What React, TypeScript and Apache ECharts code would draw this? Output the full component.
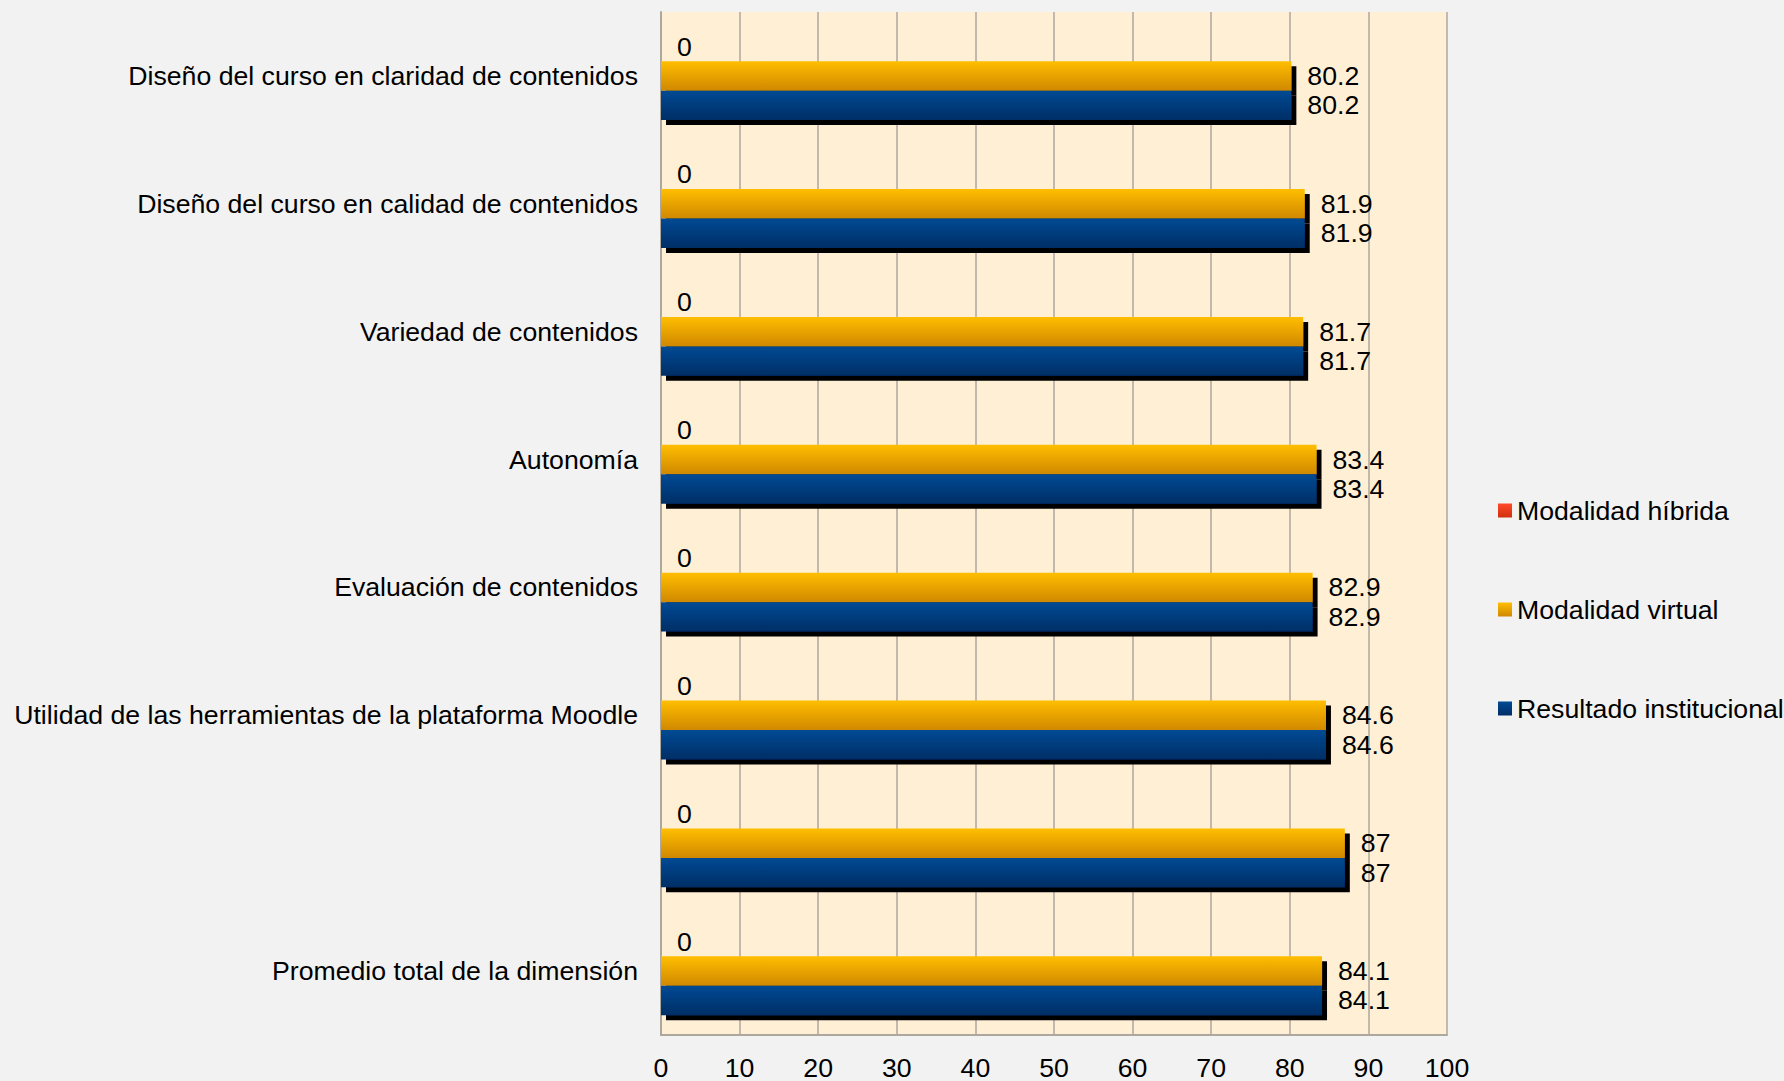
import React, { useEffect, useRef } from "react";
import * as echarts from "echarts";

const categories = [
  "Diseño del curso en claridad de contenidos",
  "Diseño del curso en calidad de contenidos",
  "Variedad de contenidos",
  "Autonomía",
  "Evaluación de contenidos",
  "Utilidad de las herramientas de la plataforma Moodle",
  "",
  "Promedio total de la dimensión",
];
const hibrida = [0, 0, 0, 0, 0, 0, 0, 0];
const virtual = [80.2, 81.9, 81.7, 83.4, 82.9, 84.6, 87, 84.1];
const institucional = [80.2, 81.9, 81.7, 83.4, 82.9, 84.6, 87, 84.1];
const xTicks = { min: 0, max: 100, interval: 10 };

const FONT = "'Liberation Sans', Arial, sans-serif";
const FS = 26.67;

export default function App() {
  const ref = useRef<HTMLDivElement>(null);
  useEffect(() => {
    if (!ref.current) return;
    const chart = echarts.init(ref.current, null, { renderer: "svg" });
    const grad = (a: string, b: string) =>
      new echarts.graphic.LinearGradient(0, 0, 0, 1, [
        { offset: 0, color: a },
        { offset: 1, color: b },
      ]);
    const label = {
      show: true,
      position: "right" as const,
      distance: 16,
      fontSize: FS,
      fontFamily: FONT,
      color: "#000",
    };
    const shadow = {
      shadowColor: "#000",
      shadowBlur: 0,
      shadowOffsetX: 5,
      shadowOffsetY: 5,
    };
    chart.setOption({
      animation: false,
      backgroundColor: "#F2F2F2",
      textStyle: { fontFamily: FONT },
      grid: {
        left: 661,
        top: 12,
        width: 786,
        height: 1025,
        show: true,
        backgroundColor: "#FFF0D5",
        borderWidth: 0,
      },
      legend: {
        orient: "vertical",
        left: 1493,
        top: 492,
        icon: "rect",
        itemWidth: 14,
        itemHeight: 14,
        itemGap: 72,
        textStyle: { fontSize: FS, color: "#000", fontFamily: FONT },
        data: ["Modalidad híbrida", "Modalidad virtual", "Resultado institucional"],
      },
      xAxis: {
        type: "value",
        min: xTicks.min,
        max: xTicks.max,
        interval: xTicks.interval,
        axisLine: { show: true, lineStyle: { color: "#ADA89E", width: 2 } },
        axisTick: { show: false },
        splitLine: { show: true, lineStyle: { color: "#ADA89E", width: 1.5 } },
        axisLabel: { fontSize: FS, color: "#000", margin: 19, fontFamily: FONT },
      },
      yAxis: {
        type: "category",
        inverse: true,
        data: categories,
        axisLine: { show: true, lineStyle: { color: "#ADA89E", width: 2 } },
        axisTick: { show: false },
        axisLabel: { fontSize: FS, color: "#000", margin: 23, fontFamily: FONT },
      },
      series: [
        {
          name: "Modalidad híbrida",
          type: "bar",
          data: hibrida,
          barGap: "0%",
          barCategoryGap: "31%",
          itemStyle: { color: grad("#FF4A2A", "#D02E10") },
          label,
        },
        {
          name: "Modalidad virtual",
          type: "bar",
          data: virtual,
          barGap: "0%",
          barCategoryGap: "31%",
          itemStyle: { color: grad("#FFBE00", "#D08800"), ...shadow },
          label,
        },
        {
          name: "Resultado institucional",
          type: "bar",
          data: institucional,
          barGap: "0%",
          barCategoryGap: "31%",
          itemStyle: { color: grad("#004A94", "#002E66"), ...shadow },
          label,
        },
      ],
    });
    return () => chart.dispose();
  }, []);
  return (
    <div
      ref={ref}
      style={{ position: "fixed", left: 0, top: 0, width: 1784, height: 1081 }}
    />
  );
}
